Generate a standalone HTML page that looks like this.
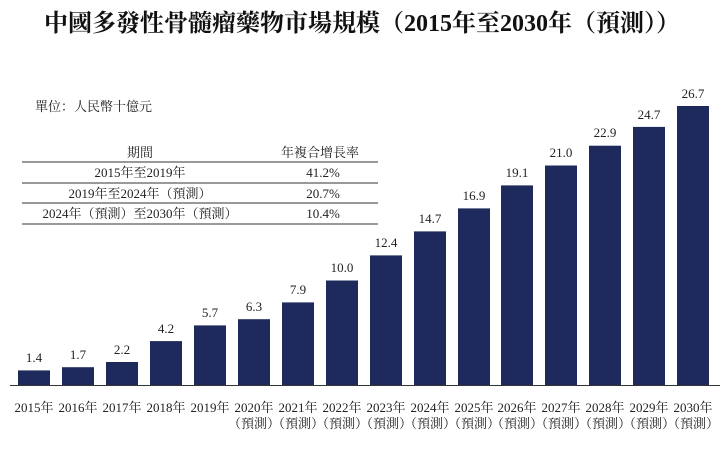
<!DOCTYPE html>
<html><head><meta charset="utf-8"><style>
body{margin:0;background:#fff}
svg text{font-family:"Liberation Serif","Noto Serif CJK SC","Noto Sans CJK TC",serif;fill:#222}
</style></head><body>
<svg width="724" height="446" viewBox="0 0 724 446" xmlns="http://www.w3.org/2000/svg">
<text x="362" y="31" text-anchor="middle" font-size="24" font-weight="bold" style="fill:#111">中國多發性骨髓瘤藥物市場規模（2015年至2030年（預測））</text>
<text x="35" y="111" font-size="13">單位：人民幣十億元</text>
<text x="140" y="157" font-size="13" text-anchor="middle">期間</text>
<text x="320" y="157" font-size="13" text-anchor="middle">年複合增長率</text>
<line x1="22" y1="162" x2="378" y2="162" stroke="#333"/>
<line x1="22" y1="183" x2="378" y2="183" stroke="#333"/>
<line x1="22" y1="203" x2="378" y2="203" stroke="#333"/>
<line x1="22" y1="224" x2="378" y2="224" stroke="#333"/>
<text x="140" y="177" font-size="13" text-anchor="middle">2015年至2019年</text>
<text x="323" y="177" font-size="13" text-anchor="middle">41.2%</text>
<text x="140" y="198" font-size="13" text-anchor="middle">2019年至2024年（預測）</text>
<text x="323" y="198" font-size="13" text-anchor="middle">20.7%</text>
<text x="140" y="218" font-size="13" text-anchor="middle">2024年（預測）至2030年（預測）</text>
<text x="323" y="218" font-size="13" text-anchor="middle">10.4%</text>
<g fill="#1f2a5c">
<rect x="18" y="370.4" width="32" height="14.6"/>
<rect x="62" y="367.2" width="32" height="17.8"/>
<rect x="106" y="362" width="32" height="23"/>
<rect x="150" y="341.1" width="32" height="43.9"/>
<rect x="194" y="325.4" width="32" height="59.6"/>
<rect x="238" y="319.2" width="32" height="65.8"/>
<rect x="282" y="302.4" width="32" height="82.6"/>
<rect x="326" y="280.5" width="32" height="104.5"/>
<rect x="370" y="255.4" width="32" height="129.6"/>
<rect x="414" y="231.4" width="32" height="153.6"/>
<rect x="458" y="208.4" width="32" height="176.6"/>
<rect x="501" y="185.4" width="32" height="199.6"/>
<rect x="545" y="165.5" width="32" height="219.5"/>
<rect x="589" y="145.7" width="32" height="239.3"/>
<rect x="633" y="126.9" width="32" height="258.1"/>
<rect x="677" y="106" width="32" height="279"/>
</g>
<line x1="10" y1="385.5" x2="720" y2="385.5" stroke="#333"/>
<g font-size="13" text-anchor="middle">
<text x="34" y="362">1.4</text>
<text x="78" y="359">1.7</text>
<text x="122" y="354">2.2</text>
<text x="166" y="333">4.2</text>
<text x="210" y="317">5.7</text>
<text x="254" y="311">6.3</text>
<text x="298" y="294">7.9</text>
<text x="342" y="272">10.0</text>
<text x="386" y="247">12.4</text>
<text x="430" y="223">14.7</text>
<text x="474" y="200">16.9</text>
<text x="517" y="177">19.1</text>
<text x="561" y="157">21.0</text>
<text x="605" y="137">22.9</text>
<text x="649" y="119">24.7</text>
<text x="693" y="98">26.7</text>
</g>
<g font-size="13" text-anchor="middle">
<text x="34" y="412">2015年</text>
<text x="78" y="412">2016年</text>
<text x="122" y="412">2017年</text>
<text x="166" y="412">2018年</text>
<text x="210" y="412">2019年</text>
<text x="254" y="412">2020年</text>
<text x="298" y="412">2021年</text>
<text x="342" y="412">2022年</text>
<text x="386" y="412">2023年</text>
<text x="430" y="412">2024年</text>
<text x="474" y="412">2025年</text>
<text x="517" y="412">2026年</text>
<text x="561" y="412">2027年</text>
<text x="605" y="412">2028年</text>
<text x="649" y="412">2029年</text>
<text x="693" y="412">2030年</text>
<text x="254" y="428">（預測）</text>
<text x="298" y="428">（預測）</text>
<text x="342" y="428">（預測）</text>
<text x="386" y="428">（預測）</text>
<text x="430" y="428">（預測）</text>
<text x="474" y="428">（預測）</text>
<text x="517" y="428">（預測）</text>
<text x="561" y="428">（預測）</text>
<text x="605" y="428">（預測）</text>
<text x="649" y="428">（預測）</text>
<text x="693" y="428">（預測）</text>
</g>
</svg>
</body></html>
